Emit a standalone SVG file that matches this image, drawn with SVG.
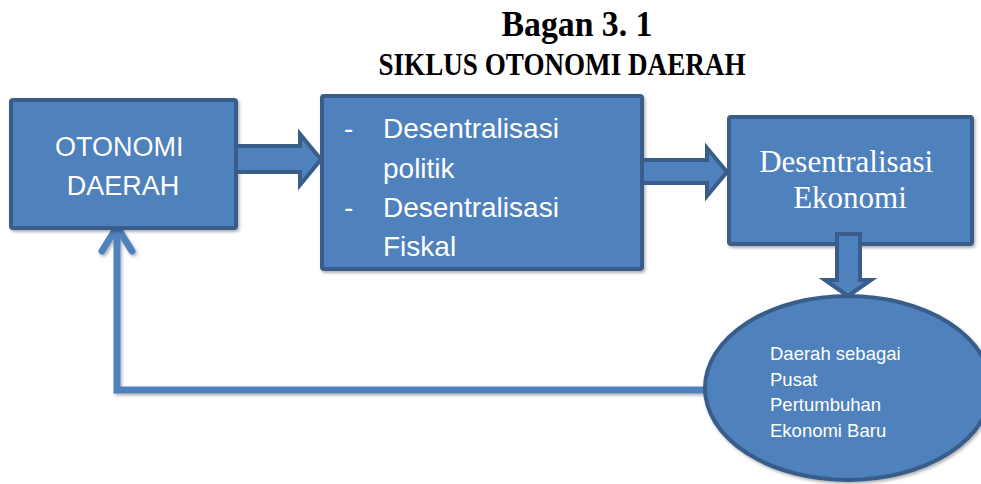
<svg xmlns="http://www.w3.org/2000/svg" width="981" height="484" viewBox="0 0 981 484">
  <defs>
    <filter id="sh" x="-10%" y="-10%" width="130%" height="130%">
      <feDropShadow dx="1.5" dy="2" stdDeviation="1.5" flood-color="#000" flood-opacity="0.3"/>
    </filter>
  </defs>
  <style>
    .box { fill: #4F81BD; stroke: #385D8A; stroke-width: 4; }
    .arr { fill: #4F81BD; stroke: #385D8A; stroke-width: 4; stroke-linejoin: miter; }
    .wt { fill: #FFFFFF; }
    .sans { font-family: "Liberation Sans", Arial, sans-serif; }
    .serif { font-family: "Liberation Serif", "Times New Roman", serif; }
    .title { font-family: "Liberation Serif", "Times New Roman", serif; font-weight: bold; fill: #000; }
    .link { fill: none; stroke: #4F81BD; stroke-width: 7; }
  </style>
  <rect width="981" height="484" fill="#FFFFFF"/>

  <g id="title">
    <text class="title" x="577" y="36" font-size="35" text-anchor="middle" textLength="151" lengthAdjust="spacingAndGlyphs">Bagan 3. 1</text>
    <text class="title" x="562" y="75" font-size="31" text-anchor="middle" textLength="367" lengthAdjust="spacingAndGlyphs">SIKLUS OTONOMI DAERAH</text>
  </g>

  <g id="connectors">
    <g filter="url(#sh)">
      <path class="link" d="M 708 390 H 117 V 229" stroke-linejoin="miter"/>
      <path class="link" d="M 102 251 L 117 227 L 132 251" stroke-linecap="round" stroke-linejoin="miter"/>
    </g>
  </g>

  <g id="node-otonomi">
    <rect class="box" x="11" y="100" width="225" height="128" rx="2" filter="url(#sh)"/>
    <text class="wt sans" font-size="27" text-anchor="middle">
      <tspan x="123" y="156">OTONOMI</tspan>
      <tspan x="123" y="195">DAERAH</tspan>
    </text>
  </g>

  <g id="node-desentralisasi">
    <rect class="box" x="322" y="96" width="320" height="173" rx="2" filter="url(#sh)"/>
    <text class="wt sans" font-size="28">
      <tspan x="344" y="138">-</tspan>
      <tspan x="383" y="138">Desentralisasi</tspan>
      <tspan x="383" y="178">politik</tspan>
      <tspan x="344" y="217">-</tspan>
      <tspan x="383" y="217">Desentralisasi</tspan>
      <tspan x="383" y="256">Fiskal</tspan>
    </text>
  </g>

  <g id="node-ekonomi">
    <rect class="box" x="729" y="117" width="243" height="127" rx="2" filter="url(#sh)"/>
    <text class="wt serif" font-size="31" text-anchor="middle">
      <tspan x="850" y="172">Desentralisasi</tspan>
      <tspan x="850" y="208">Ekonomi</tspan>
    </text>
  </g>

  <g id="block-arrows">
    <polygon id="arrow-1" class="arr" points="236,146 300,146 300,134 321,159.5 300,185 300,172 236,172"/>
    <polygon id="arrow-2" class="arr" points="642,160 707,160 707,148 727,172 707,196 707,183 642,183"/>
  </g>

  <g id="node-pusat">
    <ellipse class="box" cx="848" cy="388" rx="143" ry="92" filter="url(#sh)"/>
    <text class="wt sans" font-size="18.5">
      <tspan x="770" y="360">Daerah sebagai</tspan>
      <tspan x="770" y="386">Pusat</tspan>
      <tspan x="770" y="411">Pertumbuhan</tspan>
      <tspan x="770" y="437">Ekonomi Baru</tspan>
    </text>
  </g>

  <g id="arrow-3">
    <polygon class="arr" points="837,234 860,234 860,280 871,280 848,296 825,280 837,280"/>
  </g>
</svg>
